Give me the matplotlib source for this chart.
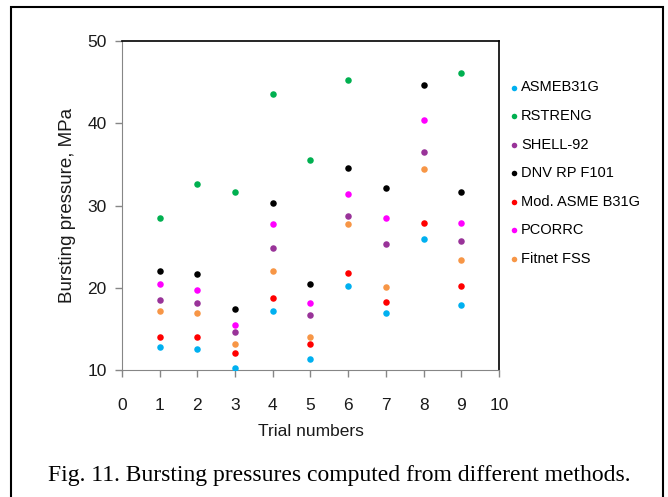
import numpy as np
import matplotlib
matplotlib.use("Agg")
import matplotlib.pyplot as plt
from matplotlib.patches import Rectangle

# values (MPa), trials 1..9; nan = not shown
trials = [1, 2, 3, 4, 5, 6, 7, 8, 9]
asme_b31g = [12.8, 12.6, 10.3, 17.2, 11.4, 20.2, 16.9, 25.9, 17.9]
rstreng = [28.5, 32.6, 31.6, 43.6, 35.5, 45.2, np.nan, np.nan, 46.1]
shell92 = [18.5, 18.1, 14.6, 24.8, 16.7, 28.7, 25.3, 36.5, 25.7]
dnv = [22.0, 21.7, 17.4, 30.3, 20.4, 34.6, 32.1, 44.7, 31.6]
mod_asme = [14.0, 14.0, 12.1, 18.7, 13.2, 21.8, 18.3, 27.9, 20.2]
pcorrc = [20.4, 19.7, 15.5, 27.7, 18.1, 31.4, 28.5, 40.4, 27.9]
fitnet = [17.2, 16.9, 13.2, 22.0, 14.0, 27.7, 20.1, 34.4, 23.4]

labels = ["ASMEB31G", "RSTRENG", "SHELL-92", "DNV RP F101",
          "Mod. ASME B31G", "PCORRC", "Fitnet FSS"]
colors = ["#00B0F0", "#00B050", "#993399", "#000000",
          "#FF0000", "#FF00FF", "#F79646"]
series = [asme_b31g, rstreng, shell92, dnv, mod_asme, pcorrc, fitnet]

plt.rcParams['font.family'] = ['Liberation Sans', 'DejaVu Sans']

fig = plt.figure(figsize=(6.68, 4.97), dpi=100)
ax = fig.add_axes([0.1826, 0.2555, 0.5644, 0.662])

for vals, lab, col in zip(series, labels, colors):
    ax.scatter(trials, vals, s=22, color=col, label=lab, linewidths=0, zorder=3)

ax.set_xlim(0, 10)
ax.set_ylim(10, 50)
ax.set_xticks(range(0, 11))
ax.set_yticks([10, 20, 30, 40, 50])
ax.tick_params(axis='both', direction='out', length=5, width=1, color='#868686',
               labelsize=12.5, pad=6, labelcolor='#1a1a1a')
ax.tick_params(axis='x', pad=15)
for s in ['left', 'bottom']:
    ax.spines[s].set_color('#868686')
for s in ['top', 'right']:
    ax.spines[s].set_color('black')
    ax.spines[s].set_linewidth(1.2)

ax.set_xlabel('Trial numbers', fontsize=12.5, labelpad=8, color='#1a1a1a')
ax.set_ylabel('Bursting pressure, MPa', fontsize=13.5, labelpad=8, color='#1a1a1a')

ax.legend(loc='upper left', bbox_to_anchor=(0.756, 0.85), bbox_transform=fig.transFigure,
          frameon=False, fontsize=10.5, handlelength=0.5, handletextpad=0.2,
          labelspacing=1.0, borderaxespad=0, scatterpoints=1, markerscale=0.85)

# outer frame around figure and caption
fig.patches.append(Rectangle((11 / 668, -0.05), 652 / 668, 1 - 7 / 497 + 0.05,
                             transform=fig.transFigure, fill=False,
                             edgecolor='black', linewidth=1.5))

fig.text(0.508, 1 - 476 / 497, 'Fig. 11. Bursting pressures computed from different methods.',
         family=['Liberation Serif', 'DejaVu Serif'], fontsize=17, ha='center', va='center')

fig.savefig('out.png', dpi=100)
